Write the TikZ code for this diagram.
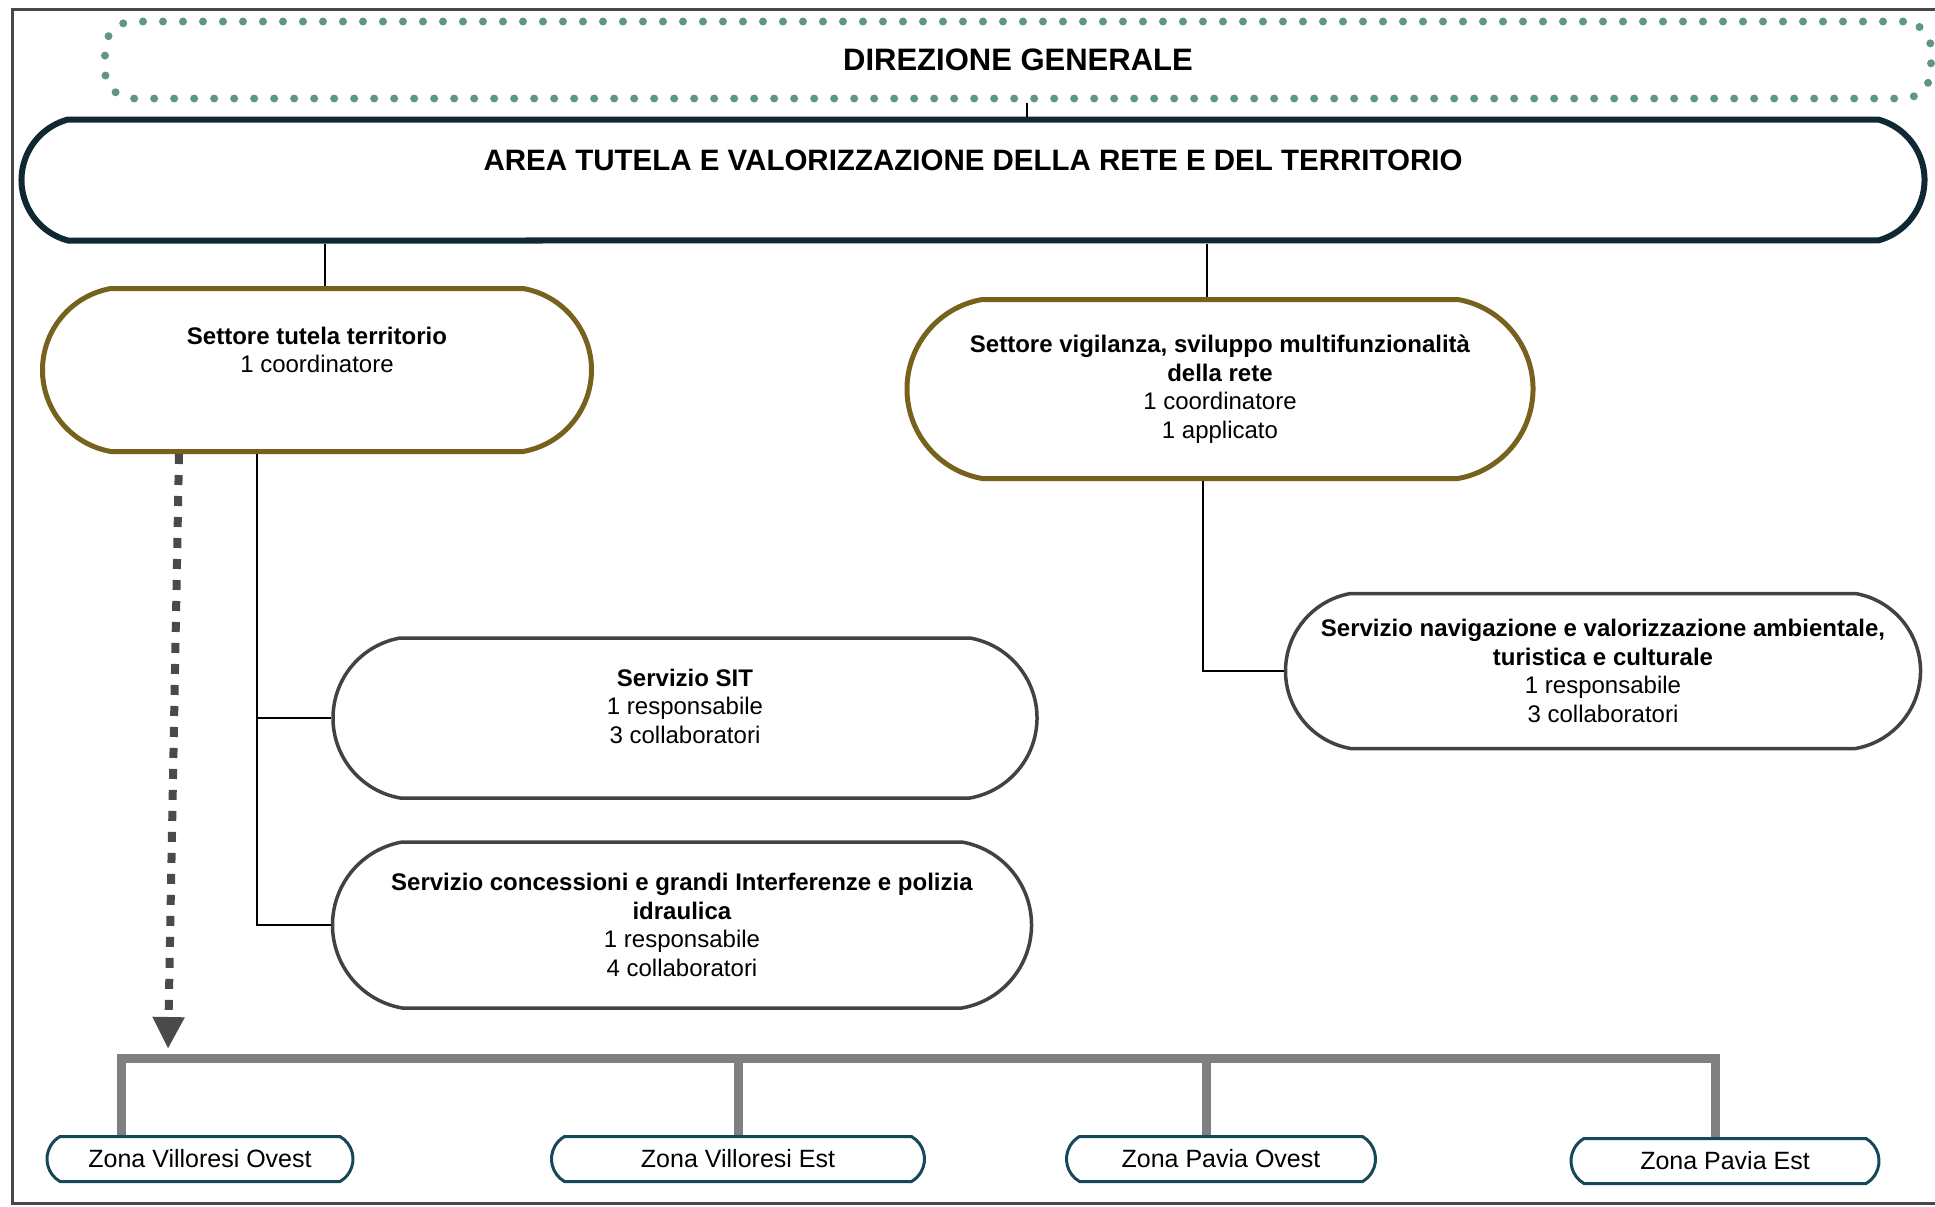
\documentclass[tikz,border=0pt]{standalone}
\usepackage{fontspec}
\setmainfont{Liberation Sans}
\usetikzlibrary{shapes.misc,positioning,arrows.meta}

\definecolor{dggreen}{RGB}{96,150,130}
\definecolor{areanavy}{RGB}{16,40,52}
\definecolor{settoreol}{RGB}{118,98,28}
\definecolor{servgray}{RGB}{66,66,66}
\definecolor{zonateal}{RGB}{22,72,90}
\definecolor{busgray}{RGB}{128,128,128}
\definecolor{framegray}{RGB}{72,72,72}

\begin{document}
\begin{tikzpicture}[x=1pt, y=-1pt,
  pill/.style={rounded rectangle, rounded rectangle arc length=160, draw, fill=white, inner sep=0pt, align=center, font=\fontsize{24}{28.5}\selectfont},
  settore/.style={pill, draw=settoreol, line width=5pt},
  servizio/.style={pill, draw=servgray, line width=3.5pt},
  zona/.style={pill, rounded rectangle arc length=120, draw=zonateal, line width=3pt, minimum height=45pt, font=\fontsize{25}{30}\selectfont},
  txt/.style={align=center, inner sep=0pt, font=\fontsize{24}{28.5}\selectfont},
  link/.style={black, line width=2pt},
  bus/.style={busgray, line width=9pt, line join=miter},
  dasharrow/.style={draw={rgb,255:red,74;green,74;blue,74}, line width=8pt, dash pattern=on 10pt off 11pt, -{Triangle[length=32pt,width=30pt]}}]
  \useasboundingbox (0,0) rectangle (1935,1207);
  \draw[framegray, line width=3pt] (1935,10) -- (12,10) -- (12,1203) -- (1935,1203);

  % direzione e area
  \node[rectangle, rounded corners=28pt, draw=dggreen, line width=8pt, dash pattern=on 0pt off 20pt, line cap=round,
        minimum width=1826pt, minimum height=77pt, font=\bfseries\fontsize{31}{36}\selectfont] (dg) at (1018,60) {DIREZIONE GENERALE};
  \node[pill, rounded rectangle arc length=150, draw=areanavy, line width=6pt, minimum width=1903pt, minimum height=121pt] (area) at (973,180) {};
  \node[txt, font=\bfseries\fontsize{29.5}{34}\selectfont] (areatxt) at ([yshift=20pt]area.center) {AREA TUTELA E VALORIZZAZIONE DELLA RETE E DEL TERRITORIO};

  % settori
  \node[settore, minimum width=549pt, minimum height=163pt] (tutela) at (317,370) {};
  \node[txt] (tutelatxt) at ([yshift=20pt]tutela.center) {\textbf{Settore tutela territorio}\\1 coordinatore};
  \node[settore, minimum width=626pt, minimum height=179pt] (vig) at (1220,389) {\textbf{Settore vigilanza, sviluppo multifunzionalità}\\\textbf{della rete}\\1 coordinatore\\1 applicato};

  % servizi
  \node[servizio, minimum width=704pt, minimum height=160pt] (sit) at (685,718) {};
  \node[txt] (sittxt) at ([yshift=12pt]sit.center) {\textbf{Servizio SIT}\\1 responsabile\\3 collaboratori};
  \node[servizio, minimum width=699pt, minimum height=166pt] (conc) at (682,925) {\textbf{Servizio concessioni e grandi Interferenze e polizia}\\\textbf{idraulica}\\1 responsabile\\4 collaboratori};
  \node[servizio, minimum width=635pt, minimum height=155pt] (nav) at (1603,671) {\textbf{Servizio navigazione e valorizzazione ambientale,}\\\textbf{turistica e culturale}\\1 responsabile\\3 collaboratori};

  % zone
  \node[zona, minimum width=306pt] (zvo) at (200,1159) {Zona Villoresi Ovest};
  \node[zona, minimum width=373pt] (zve) at (738,1159) {Zona Villoresi Est};
  \node[zona, minimum width=309pt] (zpo) at (1221,1159) {Zona Pavia Ovest};
  \node[zona, minimum width=308pt] (zpe) at (1725,1161) {Zona Pavia Est};

  % collegamenti
  \draw[link] ([xshift=9pt]dg.south) -- ([xshift=9pt]dg.south |- area.north);
  \draw[link] ([xshift=8pt]tutela.north) -- ([xshift=8pt]tutela.north |- area.south);
  \draw[link] ([xshift=-13pt]vig.north) -- ([xshift=-13pt]vig.north |- area.south);
  \draw[link] ([xshift=-17pt]vig.south) |- (nav.west);
  \coordinate (tb) at ([xshift=-60pt]tutela.south);
  \draw[link] (tb) |- (sit.west);
  \draw[link] (tb) |- (conc.west);

  \coordinate (bus) at (0,1058);
  \coordinate (bustip) at (168,1049);
  \draw[dasharrow] ([xshift=-138pt]tutela.south) -- (bustip);
  \draw[bus] ([xshift=-79pt]zvo.north) |- ([xshift=-10pt]zpe.north |- bus) -- ([xshift=-10pt]zpe.north);
  \draw[bus] (zve.north) -- (zve.north |- bus);
  \draw[bus] ([xshift=-15pt]zpo.north) -- ([xshift=-15pt]zpo.north |- bus);
\end{tikzpicture}
\end{document}
